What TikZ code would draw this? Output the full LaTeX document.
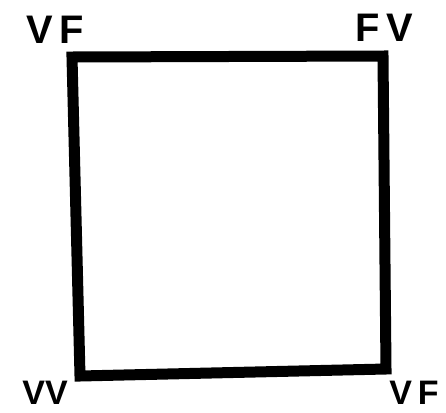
\documentclass[tikz,border=0pt]{standalone}
\usepackage{fontspec}
\setmainfont{Liberation Sans}
\usepackage{tikz}
\usetikzlibrary{positioning}

\begin{document}
\begin{tikzpicture}[x=0.03cm, y=-0.03cm,
    coin/.style={font=\fontsize{34}{34}\selectfont\bfseries, inner sep=0pt, anchor=base},
    coinbas/.style={coin, font=\fontsize{29}{29}\selectfont\bfseries}]
    \useasboundingbox (0,0) rectangle (446,412);
    % sommets du carré
    \coordinate (hg) at (72,57);
    \coordinate (hd) at (383,56);
    \coordinate (bd) at (386,369);
    \coordinate (bg) at (80,376);
    \draw[line width=0.33cm, line join=miter] (hg) -- (hd) -- (bd) -- (bg) -- cycle;
    % étiquettes des coins
    \node[coin] (lhg) at (55,43) {V\,F};
    \node[coin] (lhd) at (384,41) {F\,V};
    \node[coinbas] (lbg) at (45,404) {VV};
    \node[coinbas] (lbd) at (414,404) {V\,F};
\end{tikzpicture}
\end{document}
